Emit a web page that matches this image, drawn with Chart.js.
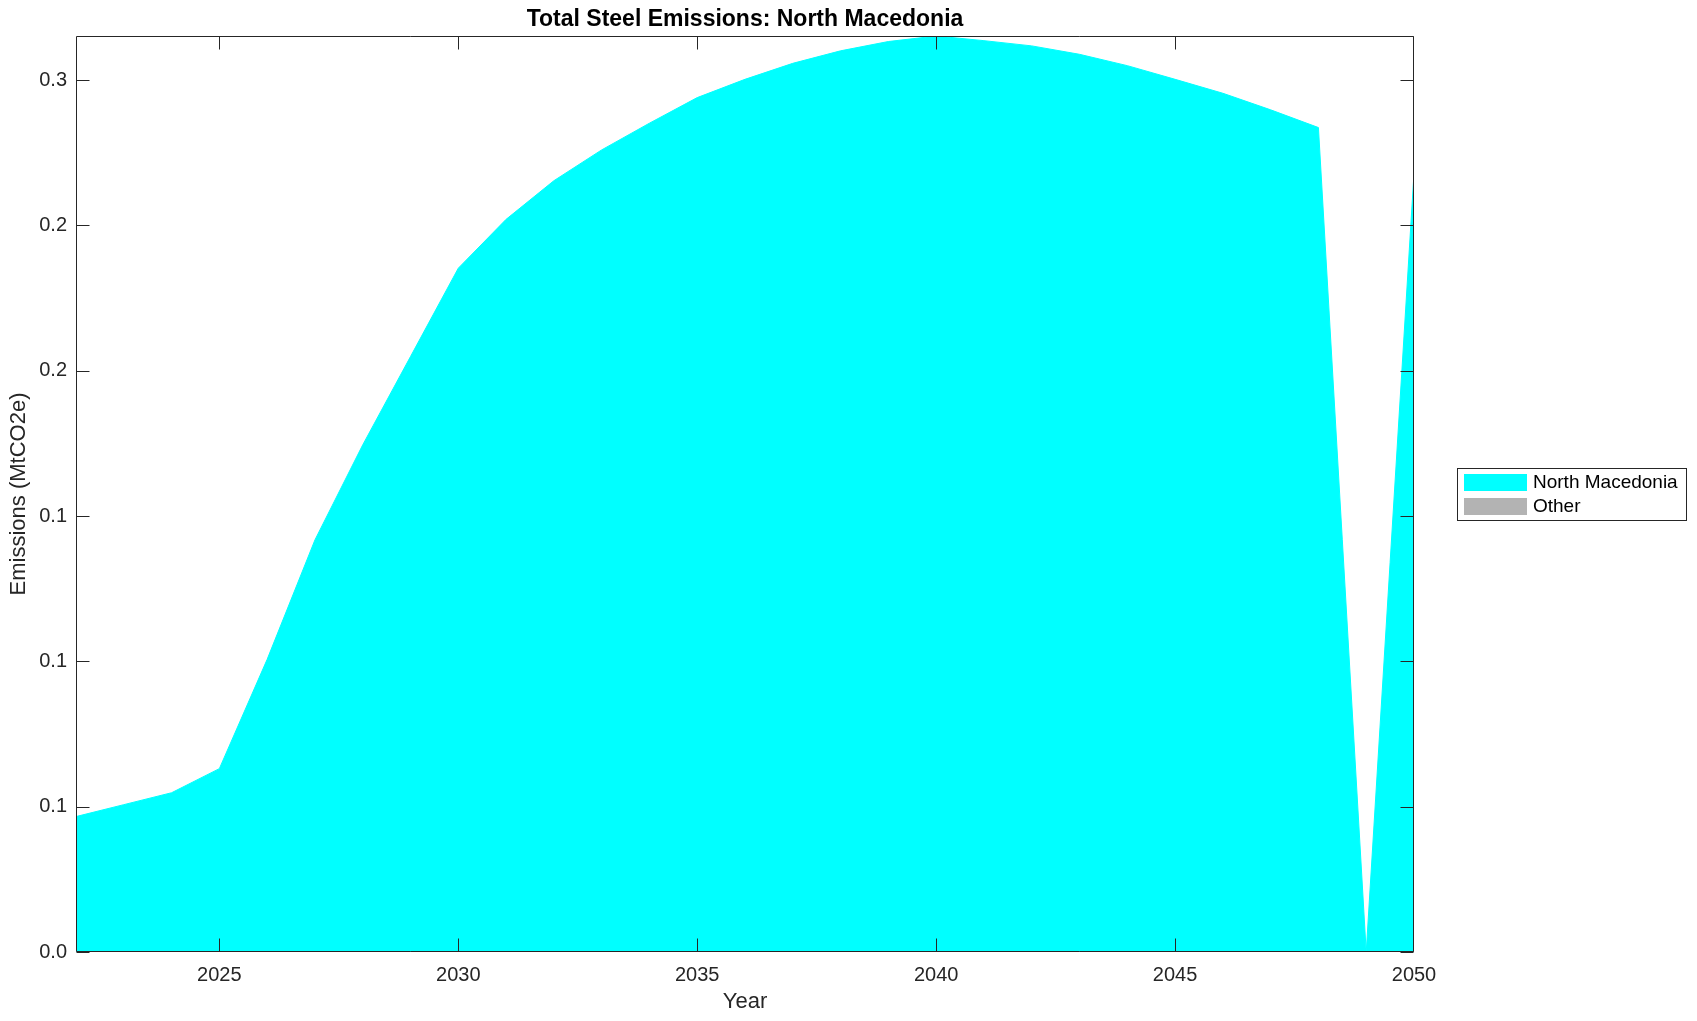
<!DOCTYPE html>
<html>
<head>
<meta charset="utf-8">
<script src="https://cdn.jsdelivr.net/npm/chart.js@4.4.1/dist/chart.umd.min.js"></script>
<style>
html,body{margin:0;padding:0;background:#ffffff;overflow:hidden;}
#wrap{width:1697px;height:1021px;position:relative;}
</style>
</head>
<body>
<div id="wrap"><canvas id="c" width="1697" height="1021"></canvas></div>
<script>
const FONT = '"Liberation Sans", Arial, Helvetica, sans-serif';

const years = [2022,2023,2024,2025,2026,2027,2028,2029,2030,2031,2032,2033,2034,2035,2036,2037,2038,2039,2040,2041,2042,2043,2044,2045,2046,2047,2048,2049,2050];
const northMacedonia = [0.0466,0.0507,0.0548,0.0631,0.1007,0.1418,0.1745,0.2049,0.2353,0.2521,0.2654,0.2760,0.2852,0.2940,0.3003,0.3058,0.3101,0.3133,0.3152,0.3136,0.3118,0.3089,0.3050,0.3003,0.2955,0.2898,0.2837,0.0,0.2680];
const other = [0,0,0,0,0,0,0,0,0,0,0,0,0,0,0,0,0,0,0,0,0,0,0,0,0,0,0,0,0];

const seriesLabels = ['North Macedonia','Other'];
const seriesColors = ['#00ffff','#b3b3b3'];

const xTicks = [2025,2030,2035,2040,2045,2050];
const yTicks = [0,0.05,0.10,0.15,0.20,0.25,0.30];
const yTickLabels = ['0.0','0.1','0.1','0.1','0.2','0.2','0.3'];
const xMin = 2022, xMax = 2050, yMin = 0, yMax = 0.3152;

const titleText = 'Total Steel Emissions: North Macedonia';
const xTitle = 'Year';
const yTitle = 'Emissions (MtCO2e)';

const AXIS_COLOR = '#262626';

const axesBox = {
  id: 'axesBox',
  afterDatasetsDraw(chart) {
    const {ctx, chartArea: a, scales: {x, y}} = chart;
    const L = Math.round(a.left) + 0.5, R = Math.round(a.right) - 0.5;
    const T = Math.round(a.top) + 0.5, B = Math.round(a.bottom) - 0.5;
    const TL = 13;
    ctx.save();
    ctx.strokeStyle = AXIS_COLOR;
    ctx.lineWidth = 1;
    ctx.beginPath();
    ctx.rect(L, T, R - L, B - T);
    xTicks.forEach(v => {
      const px = Math.min(R, Math.round(x.getPixelForValue(v)) + 0.5);
      ctx.moveTo(px, B); ctx.lineTo(px, B - TL);
      ctx.moveTo(px, T); ctx.lineTo(px, T + TL);
    });
    yTicks.forEach(v => {
      const py = Math.round(y.getPixelForValue(v)) + 0.5;
      ctx.moveTo(L, py); ctx.lineTo(L + TL, py);
      ctx.moveTo(R, py); ctx.lineTo(R - TL, py);
    });
    ctx.stroke();
    ctx.restore();
  }
};

const boxLegend = {
  id: 'boxLegend',
  afterDraw(chart) {
    const {ctx, chartArea: a} = chart;
    const ds = chart.data.datasets;
    const w = 230, h = 53;
    const left = Math.round(a.right) + 43;
    const top = Math.round((a.top + a.bottom) / 2 - h / 2);
    ctx.save();
    ctx.fillStyle = '#ffffff';
    ctx.fillRect(left, top, w, h);
    ctx.strokeStyle = AXIS_COLOR;
    ctx.lineWidth = 1;
    ctx.strokeRect(left + 0.5, top + 0.5, w - 1, h - 1);
    ctx.font = '19px ' + FONT;
    ctx.textBaseline = 'middle';
    ctx.textAlign = 'left';
    ds.forEach((d, i) => {
      const sy = top + 6 + i * 24;
      ctx.fillStyle = d.backgroundColor;
      ctx.fillRect(left + 7, sy, 63, 17);
      ctx.fillStyle = '#000000';
      ctx.fillText(d.label, left + 76, sy + 9);
    });
    ctx.restore();
  }
};

new Chart(document.getElementById('c'), {
  type: 'line',
  data: {
    labels: years,
    datasets: [
      {
        label: seriesLabels[0],
        data: years.map((yr, i) => ({x: yr, y: northMacedonia[i]})),
        backgroundColor: seriesColors[0],
        borderColor: seriesColors[0],
        borderWidth: 1,
        fill: 'origin',
        pointRadius: 0,
        tension: 0
      },
      {
        label: seriesLabels[1],
        data: years.map((yr, i) => ({x: yr, y: other[i]})),
        backgroundColor: seriesColors[1],
        borderColor: 'rgba(0,0,0,0)',
        borderWidth: 0,
        fill: 'origin',
        pointRadius: 0,
        tension: 0
      }
    ]
  },
  options: {
    responsive: false,
    animation: false,
    devicePixelRatio: 1,
    layout: {padding: {left: 0, right: 283, top: 0, bottom: 0}},
    plugins: {
      legend: {display: false},
      tooltip: {enabled: false},
      title: {
        display: true,
        text: titleText,
        fullSize: false,
        color: '#000000',
        font: {family: FONT, size: 23, weight: 'bold'},
        padding: {top: 6, bottom: 2.4}
      }
    },
    scales: {
      x: {
        type: 'linear',
        min: xMin, max: xMax,
        grid: {display: false, drawTicks: false},
        border: {display: false},
        afterBuildTicks: s => { s.ticks = xTicks.map(v => ({value: v})); },
        afterFit: s => { s.height = 69; },
        ticks: {
          padding: 11, color: AXIS_COLOR, autoSkip: false, maxRotation: 0,
          font: {family: FONT, size: 20},
          callback: v => String(v)
        },
        title: {display: true, text: xTitle, color: AXIS_COLOR, font: {family: FONT, size: 22}, padding: {top: 0, bottom: 6}}
      },
      y: {
        type: 'linear',
        min: yMin, max: yMax,
        grid: {display: false, drawTicks: false},
        border: {display: false},
        afterBuildTicks: s => { s.ticks = yTicks.map(v => ({value: v})); },
        afterFit: s => { s.width = 76; },
        ticks: {
          padding: 9, color: AXIS_COLOR, autoSkip: false,
          font: {family: FONT, size: 20},
          callback: (v, i) => yTickLabels[i]
        },
        title: {display: true, text: yTitle, color: AXIS_COLOR, font: {family: FONT, size: 22}, padding: {top: 6, bottom: 0}}
      }
    }
  },
  plugins: [axesBox, boxLegend]
});
</script>
</body>
</html>
